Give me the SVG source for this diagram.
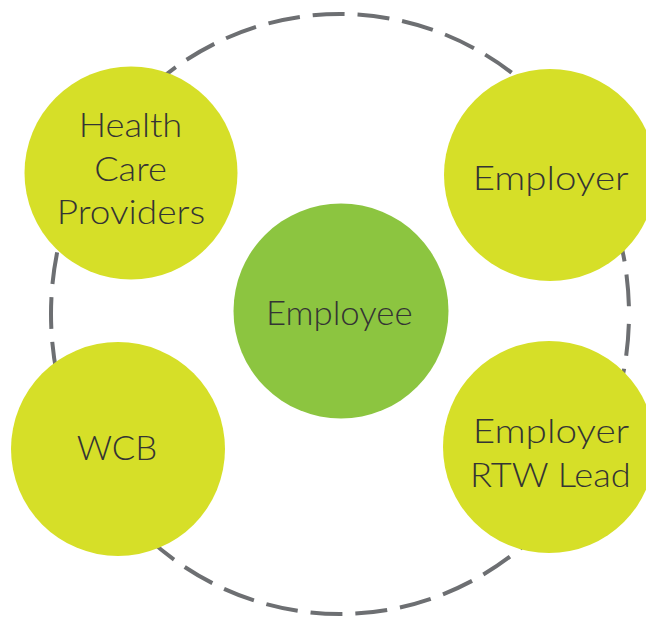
<svg xmlns="http://www.w3.org/2000/svg" width="646" height="617" viewBox="0 0 646 617">
  <style>
    .ring { fill: none; stroke: #6d6f72; stroke-width: 4; stroke-dasharray: 32 13; }
    .party { fill: #d6df28; }
    .core { fill: #8cc540; }
    .label { font-family: "Lato", "Open Sans", "Liberation Sans", sans-serif; font-weight: 300; font-size: 32.5px; fill: #343434; text-anchor: middle; }
  </style>
  <rect width="646" height="617" fill="#ffffff"/>
  <g id="connectors">
    <ellipse class="ring" cx="340" cy="314" rx="289" ry="300" stroke-dashoffset="-10"/>
  </g>
  <g id="health-care-providers">
    <circle class="party" cx="131" cy="173" r="106.5"/>
    <text class="label" x="130.5" y="137" textLength="103.6" lengthAdjust="spacingAndGlyphs">Health</text>
    <text class="label" x="130.5" y="181" textLength="72.7" lengthAdjust="spacingAndGlyphs">Care</text>
    <text class="label" x="131" y="224" textLength="148.3" lengthAdjust="spacingAndGlyphs">Providers</text>
  </g>
  <g id="employer">
    <circle class="party" cx="550" cy="175" r="106"/>
    <text class="label" x="550.7" y="190" textLength="156" lengthAdjust="spacingAndGlyphs">Employer</text>
  </g>
  <g id="employee">
    <circle class="core" cx="341" cy="311" r="107.5"/>
    <text class="label" x="339.3" y="325" textLength="146.7" lengthAdjust="spacingAndGlyphs">Employee</text>
  </g>
  <g id="wcb">
    <circle class="party" cx="118" cy="449" r="107"/>
    <text class="label" x="117" y="460" textLength="80.6" lengthAdjust="spacingAndGlyphs">WCB</text>
  </g>
  <g id="employer-rtw-lead">
    <circle class="party" cx="549" cy="447" r="106"/>
    <text class="label" x="551" y="443" textLength="156.6" lengthAdjust="spacingAndGlyphs">Employer</text>
    <text class="label" x="550.3" y="487" textLength="160.7" lengthAdjust="spacingAndGlyphs">RTW Lead</text>
  </g>
</svg>
